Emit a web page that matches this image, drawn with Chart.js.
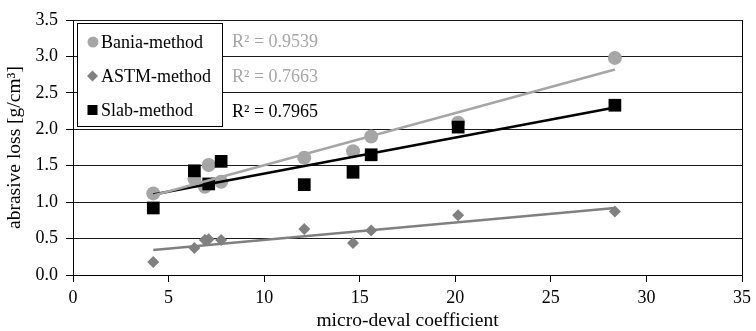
<!DOCTYPE html>
<html>
<head>
<meta charset="utf-8">
<script src="https://cdn.jsdelivr.net/npm/chart.js@4/dist/chart.umd.min.js"></script>
<style>
  html, body { margin: 0; padding: 0; background: #fff; }
</style>
</head>
<body>
<canvas id="abrasion-chart" width="756" height="331"></canvas>
<script>
// micro-deval coefficient of each sample (x)
const microDeval = [4.2, 6.35, 6.9, 7.1, 7.75, 12.1, 14.65, 15.6, 20.15, 28.35];
// abrasive loss [g/cm3] per method (null = no measurement)
const baniaLoss = [1.12, 1.32, 1.21, 1.51, 1.28, 1.61, 1.70, 1.90, 2.09, 2.98];
const astmLoss  = [0.18, 0.37, 0.48, 0.49, 0.48, 0.63, 0.44, 0.61, 0.82, 0.87];
const slabLoss  = [0.92, 1.43, null, 1.25, 1.56, 1.24, 1.41, 1.65, 2.03, 2.33];

const seriesNames = ["Bania-method", "ASTM-method", "Slab-method"];
const rSquared = ["R² = 0.9539", "R² = 0.7663", "R² = 0.7965"];
const seriesColors = ["#a6a6a6", "#808080", "#000000"];

const FONT = '"Liberation Serif", "Times New Roman", serif';

function toPoints(xs, ys) {
  const pts = [];
  xs.forEach(function (x, i) {
    if (ys[i] !== null) pts.push({ x: x, y: ys[i] });
  });
  return pts;
}

// least squares line over the points, from min x to max x
function trendLine(pts) {
  const n = pts.length;
  let sx = 0, sy = 0, sxx = 0, sxy = 0;
  pts.forEach(function (p) { sx += p.x; sy += p.y; sxx += p.x * p.x; sxy += p.x * p.y; });
  const b = (n * sxy - sx * sy) / (n * sxx - sx * sx);
  const a = (sy - b * sx) / n;
  const xMin = Math.min.apply(null, pts.map(function (p) { return p.x; }));
  const xMax = Math.max.apply(null, pts.map(function (p) { return p.x; }));
  return [{ x: xMin, y: a + b * xMin }, { x: xMax, y: a + b * xMax }];
}

const baniaPts = toPoints(microDeval, baniaLoss);
const astmPts = toPoints(microDeval, astmLoss);
const slabPts = toPoints(microDeval, slabLoss);

// Legend box + R² labels inside the plot
const insideLegend = {
  id: "insideLegend",
  afterDraw: function (chart) {
    const ctx = chart.ctx;
    ctx.save();
    ctx.fillStyle = "#fff";
    ctx.fillRect(77, 23, 146, 104);
    ctx.strokeStyle = "#000";
    ctx.lineWidth = 1;
    ctx.strokeRect(77.5, 23.5, 145, 103);

    const rows = [42, 76, 110];
    ctx.font = "18px " + FONT;
    ctx.textBaseline = "middle";

    // circle
    ctx.fillStyle = seriesColors[0];
    ctx.beginPath();
    ctx.arc(93, rows[0], 5.5, 0, Math.PI * 2);
    ctx.fill();
    // diamond
    ctx.fillStyle = seriesColors[1];
    ctx.beginPath();
    ctx.moveTo(92.5, rows[1] - 5.5);
    ctx.lineTo(98, rows[1]);
    ctx.lineTo(92.5, rows[1] + 5.5);
    ctx.lineTo(87, rows[1]);
    ctx.closePath();
    ctx.fill();
    // square
    ctx.fillStyle = seriesColors[2];
    ctx.fillRect(87.5, rows[2] - 5, 10, 10);

    ctx.fillStyle = "#000";
    ctx.textAlign = "left";
    seriesNames.forEach(function (name, i) {
      ctx.fillText(name, 101, rows[i] + 1);
    });

    const rColors = ["#a6a6a6", "#a6a6a6", "#000"];
    const rRows = [42, 77, 112];
    rSquared.forEach(function (txt, i) {
      ctx.fillStyle = rColors[i];
      ctx.fillText(txt, 232, rRows[i]);
    });
    ctx.restore();
  }
};

const ctx = document.getElementById("abrasion-chart");
new Chart(ctx, {
  type: "scatter",
  data: {
    datasets: [
      {
        label: seriesNames[0] + " trend",
        type: "line",
        data: trendLine(baniaPts),
        borderColor: seriesColors[0],
        borderWidth: 2.5,
        pointRadius: 0,
        fill: false,
        order: 0,
      },
      {
        label: seriesNames[1] + " trend",
        type: "line",
        data: trendLine(astmPts),
        borderColor: seriesColors[1],
        borderWidth: 2.5,
        pointRadius: 0,
        fill: false,
        order: 0,
      },
      {
        label: seriesNames[2] + " trend",
        type: "line",
        data: trendLine(slabPts),
        borderColor: seriesColors[2],
        borderWidth: 2.5,
        pointRadius: 0,
        fill: false,
        order: 0,
      },
      {
        label: seriesNames[2],
        data: slabPts,
        pointStyle: "rect",
        pointRadius: 9,
        backgroundColor: seriesColors[2],
        borderColor: seriesColors[2],
        borderWidth: 0,
        order: 1,
      },
      {
        label: seriesNames[1],
        data: astmPts,
        pointStyle: "rectRot",
        pointRadius: 6,
        backgroundColor: seriesColors[1],
        borderColor: seriesColors[1],
        borderWidth: 0,
        order: 2,
      },
      {
        label: seriesNames[0],
        data: baniaPts,
        pointStyle: "circle",
        pointRadius: 7,
        backgroundColor: seriesColors[0],
        borderColor: seriesColors[0],
        borderWidth: 0,
        order: 3,
      },
    ],
  },
  options: {
    responsive: false,
    animation: false,
    devicePixelRatio: 1,
    layout: { padding: { top: 20, right: 11, left: 0, bottom: 0 } },
    plugins: {
      legend: { display: false },
      tooltip: { enabled: false },
    },
    scales: {
      x: {
        type: "linear",
        min: 0,
        max: 35,
        afterFit: function (scale) { scale.height = 56; },
        ticks: {
          stepSize: 5,
          padding: 5,
          color: "#000",
          font: { family: FONT, size: 18 },
        },
        grid: {
          color: function (c) { return c.tick && c.tick.value === 35 ? "#000" : "rgba(0,0,0,0)"; },
          tickColor: "#000",
          tickLength: 7,
        },
        border: { display: true, color: "#000", width: 1 },
        title: {
          display: true,
          text: "micro-deval coefficient",
          color: "#000",
          font: { family: FONT, size: 19.5, lineHeight: 1 },
          padding: { top: 0, bottom: 0 },
        },
      },
      y: {
        min: 0,
        max: 3.5,
        afterFit: function (scale) { scale.width = 73; },
        ticks: {
          stepSize: 0.5,
          padding: 8,
          color: "#000",
          font: { family: FONT, size: 18 },
          callback: function (v) { return Number(v).toFixed(1); },
        },
        grid: {
          color: "#1a1a1a",
          tickColor: "#000",
          tickLength: 7,
        },
        border: { display: true, color: "#000", width: 1 },
        title: {
          display: true,
          text: "abrasive loss [g/cm³]",
          color: "#000",
          font: { family: FONT, size: 19.5, lineHeight: 1 },
          padding: { top: 5, bottom: 0 },
        },
      },
    },
  },
  plugins: [insideLegend],
});
</script>
</body>
</html>
